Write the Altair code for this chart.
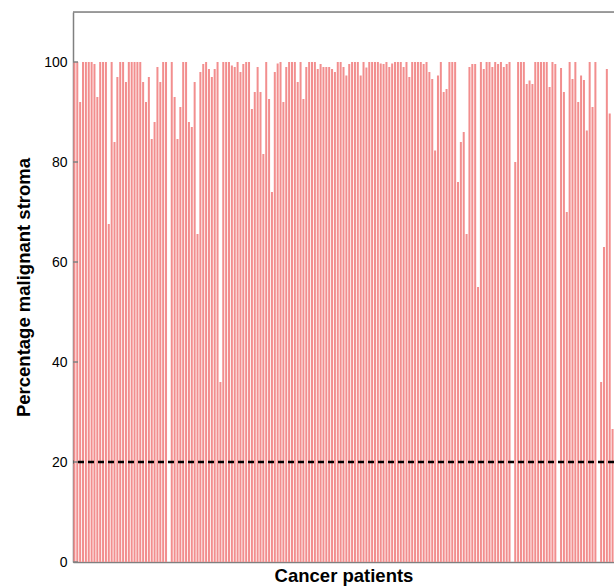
import altair as alt
import pandas as pd

# Percentage malignant stroma per patient (left to right)
stroma = [
    100, 100, 92, 100, 100, 100, 100, 99.6, 93, 100, 100, 100, 67.6, 100, 84, 97,
    100, 100, 96, 100, 100, 100, 100, 100, 96, 92, 97, 84.6, 88, 99, 96,
    100, 100, 0, 100, 93, 84.6, 91, 100, 100, 88, 87, 96, 65.6, 98, 99.6, 100,
    98.6, 97, 98.6, 100, 36, 100, 100, 100, 99.3, 99, 100, 98, 99.6, 100, 100, 90.6,
    94, 99, 94, 81.6, 100, 92.6, 74, 98, 99.7, 100, 92, 99, 100, 100, 100, 96,
    100, 92.6, 99, 100, 100, 100, 98.6, 99.6, 99, 99, 99, 98.6, 98, 100, 100,
    99, 97.3, 99.6, 100, 100, 100, 97.3, 100, 98.9, 100, 100, 100, 100, 99.7, 99.6,
    100, 99, 99.7, 100, 100, 100, 99, 100, 97, 100, 100, 100, 100, 99.6, 100, 98,
    96.6, 82.3,
    97.3, 100, 94, 94.6, 100, 100, 100, 76, 84, 86, 65.6, 99, 99.6, 99.6, 55, 100,
    98.6, 100, 100, 99, 100, 99.6, 100, 99, 99.6, 100, 0, 80, 100, 100, 100,
    95.6, 96.3, 95.6, 100, 100, 100, 100, 100, 95, 100, 99.6, 0, 98.8, 94, 70, 100,
    96.6, 100, 92, 97.3, 96.4, 86.3, 100, 91, 100, 0, 36, 63, 98.6, 89.7, 26.6,
]
patients = list(range(1, len(stroma) + 1))
y_ticks = [0, 20, 40, 60, 80, 100]
threshold = [20]
y_top = [110]

FONT = "Liberation Sans"
GRAY = "#808080"

df = pd.DataFrame({"patient": patients, "stroma": stroma})

bars = alt.Chart(df).mark_bar(color="#f28e8e").encode(
    x=alt.X(
        "patient:O",
        scale=alt.Scale(paddingInner=0.3, paddingOuter=0.15),
        axis=alt.Axis(
            title="Cancer patients", labels=False, ticks=False,
            domainColor=GRAY, domainWidth=1.5,
            titleFont=FONT, titleFontSize=18.5, titleFontWeight="bold",
            titleColor="black", titleBaseline="alphabetic", titleY=19,
        ),
    ),
    y=alt.Y(
        "stroma:Q",
        scale=alt.Scale(domain=[0, 110], nice=False),
        axis=alt.Axis(
            title="Percentage malignant stroma", values=y_ticks, ticks=False,
            grid=False, labelPadding=6, labelFont=FONT, labelFontSize=14,
            labelColor="black", domainColor=GRAY, domainWidth=1.5,
            titleFont=FONT, titleFontSize=18.5, titleFontWeight="bold",
            titleColor="black", titleBaseline="alphabetic", titleX=-44,
        ),
    ),
)

dash = alt.Chart(pd.DataFrame({"stroma": threshold})).mark_rule(
    color="black", strokeWidth=2.5, strokeDash=[6, 4]
).encode(y="stroma:Q")

top_line = alt.Chart(pd.DataFrame({"stroma": y_top})).mark_rule(
    color=GRAY, strokeWidth=1.5
).encode(y="stroma:Q")

tick_marks = alt.Chart(pd.DataFrame({"stroma": y_ticks})).mark_rule(
    color=GRAY, strokeWidth=1.5
).encode(y="stroma:Q", x=alt.value(0), x2=alt.value(5))

chart = alt.layer(bars, dash, top_line, tick_marks).properties(
    width=541, height=550,
    autosize=alt.AutoSizeParams(type="none"),
    padding={"left": 73, "top": 12, "right": 0, "bottom": 24},
).configure_view(stroke=None).configure(background="white")

chart.save("out.html", embed_options={"renderer": "svg", "actions": False})
